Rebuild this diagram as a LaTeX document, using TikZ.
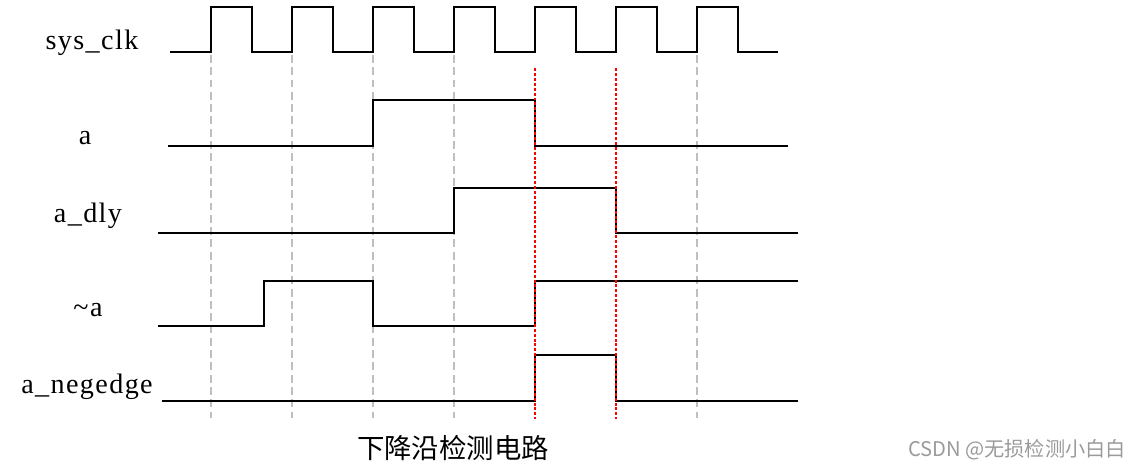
\documentclass[tikz,border=0pt]{standalone}
\usepackage{fontspec}
\setmainfont{Liberation Serif}
\newfontfamily\cjk{Noto Sans CJK SC}
\newfontfamily\sigfont[LetterSpace=5]{Liberation Serif}
\definecolor{GridGray}{HTML}{BFBFBF}
\definecolor{EdgeRed}{HTML}{FF0000}
\definecolor{MarkGray}{HTML}{9A9A9A}

\begin{document}
\begin{tikzpicture}[x=0.02cm, y=-0.02cm,
    sig/.style={line width=1.5pt, black, line join=miter},
    tick/.style={line width=1.1pt, GridGray, dash pattern=on 4.5pt off 2.5pt},
    hit/.style={line width=1.4pt, EdgeRed, dash pattern=on 1.7pt off 1.1pt},
    lbl/.style={anchor=base, inner sep=0pt, font=\sigfont\fontsize{16}{18}\selectfont}]
    \useasboundingbox (0,0) rectangle (1137,469);

    % clock grid
    \foreach \x in {211,292,373,454,697}
        \draw[tick] (\x,55) -- (\x,418);

    % labels
    \node[lbl] (clk) at (92,50) {sys\_clk};
    \node[lbl] (a) at (85,145) {a};
    \node[lbl] (dly) at (88,223) {a\_dly};
    \node[lbl] (na) at (88,317) {\textasciitilde a};
    \node[lbl] (neg) at (87,394) {a\_negedge};

    % waveforms
    \draw[sig] (170,52) \foreach \t in {211,292,373,454,535,616,697} {
        -- (\t,52) -- (\t,7) -- (\t+41,7) -- (\t+41,52) } -- (778,52);
    \draw[sig] (168,146) -- (373,146) -- (373,100) -- (535,100) -- (535,146) -- (788,146);
    \draw[sig] (158,233) -- (454,233) -- (454,188) -- (616,188) -- (616,233) -- (798,233);
    \draw[sig] (158,326) -- (264,326) -- (264,281) -- (373,281) -- (373,326)
        -- (535,326) -- (535,281) -- (798,281);
    \draw[sig] (162,401) -- (535,401) -- (535,355) -- (616,355) -- (616,401) -- (798,401);

    % falling edges of a
    \foreach \x in {535,616}
        \draw[hit] (\x,68) -- (\x,419);

    \node[font=\cjk\fontsize{15.6}{18}\selectfont, inner sep=0pt] (title) at (453,448) {下降沿检测电路};
    \node[font=\cjk\fontsize{11.5}{14}\selectfont, text=MarkGray, inner sep=0pt] (mark) at (1017,450) {CSDN @无损检测小白白};
\end{tikzpicture}
\end{document}
